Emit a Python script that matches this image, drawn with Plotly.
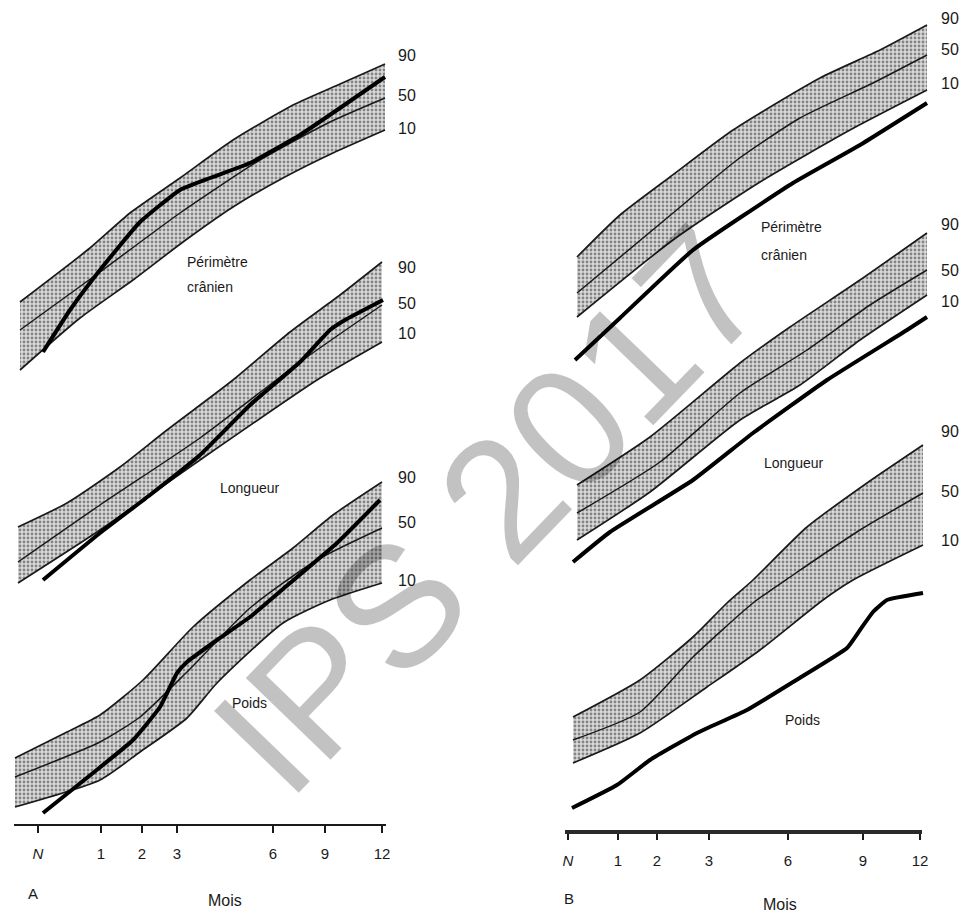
import plotly.graph_objects as go

# The page body adds an 8px margin; the figure is sized/offset to compensate.
PAGE_W, PAGE_H = 968, 917
OFF = 8
W, H = PAGE_W - OFF, PAGE_H - OFF
FONT = "Liberation Sans"
INK = "#1a1a1a"

# ---- x tick positions (months) for each panel (horizontal picture scale) ----
month_labels = ["<i>N</i>", "1", "2", "3", "6", "9", "12"]
ticks_A = [38, 101, 142, 177, 273, 325, 382]
ticks_B = [568, 618, 657, 709, 788, 863, 920]

# ---- Panel A (vertical scale = picture level) ----
A_head_top_x = [20, 90, 130, 180, 233, 293, 340, 385]
A_head_top_y = [302, 248, 213, 178, 140, 105, 84, 64]
A_head_mid_x = [20, 100, 180, 260, 330, 385]
A_head_mid_y = [330, 272, 213, 160, 122, 98]
A_head_bot_x = [20, 80, 133, 183, 233, 283, 333, 385]
A_head_bot_y = [370, 318, 280, 242, 207, 178, 153, 130]
A_head_pat_x = [43, 70, 100, 140, 180, 210, 250, 300, 340, 385]
A_head_pat_y = [352, 310, 270, 222, 190, 178, 163, 135, 108, 77]

A_len_top_x = [18, 67, 120, 167, 233, 290, 340, 382]
A_len_top_y = [527, 503, 467, 430, 380, 332, 295, 262]
A_len_mid_x = [18, 100, 200, 300, 382]
A_len_mid_y = [562, 505, 438, 362, 305]
A_len_bot_x = [18, 100, 200, 317, 382]
A_len_bot_y = [583, 530, 460, 380, 342]
A_len_pat_x = [43, 100, 150, 200, 250, 300, 330, 345, 383]
A_len_pat_y = [580, 533, 495, 455, 405, 362, 330, 320, 300]

A_wt_top_x = [15, 67, 100, 143, 193, 250, 293, 333, 382]
A_wt_top_y = [758, 732, 715, 680, 627, 580, 548, 515, 482]
A_wt_mid_x = [15, 100, 140, 187, 250, 317, 382]
A_wt_mid_y = [777, 742, 717, 672, 608, 560, 528]
A_wt_bot_x = [15, 100, 140, 187, 217, 283, 330, 382]
A_wt_bot_y = [807, 780, 752, 718, 683, 623, 600, 583]
A_wt_pat_x = [43, 93, 133, 160, 177, 187, 217, 250, 290, 337, 380]
A_wt_pat_y = [813, 773, 740, 707, 673, 662, 640, 617, 583, 543, 500]

# ---- Panel B ----
B_head_top_x = [577, 620, 670, 733, 820, 880, 927]
B_head_top_y = [257, 215, 177, 130, 78, 50, 25]
B_head_mid_x = [577, 673, 737, 800, 873, 927]
B_head_mid_y = [293, 213, 160, 118, 83, 55]
B_head_bot_x = [577, 673, 760, 850, 927]
B_head_bot_y = [317, 240, 182, 130, 90]
B_head_pat_x = [575, 620, 693, 793, 860, 927]
B_head_pat_y = [360, 318, 250, 183, 145, 103]

B_len_top_x = [577, 650, 740, 790, 860, 927]
B_len_top_y = [485, 437, 363, 327, 280, 233]
B_len_mid_x = [577, 660, 740, 807, 870, 927]
B_len_mid_y = [513, 462, 393, 350, 305, 270]
B_len_bot_x = [577, 650, 740, 800, 860, 927]
B_len_bot_y = [540, 492, 420, 385, 340, 295]
B_len_pat_x = [573, 610, 693, 753, 827, 907, 927]
B_len_pat_y = [562, 532, 480, 433, 380, 330, 317]

B_wt_top_x = [573, 640, 693, 727, 753, 807, 867, 923]
B_wt_top_y = [717, 680, 637, 603, 580, 527, 483, 445]
B_wt_mid_x = [573, 640, 693, 753, 793, 860, 923]
B_wt_mid_y = [740, 712, 657, 603, 575, 530, 493]
B_wt_bot_x = [573, 640, 707, 760, 823, 853, 923]
B_wt_bot_y = [763, 733, 687, 650, 600, 580, 545]
B_wt_pat_x = [572, 617, 650, 697, 747, 793, 847, 860, 873, 887, 923]
B_wt_pat_y = [808, 785, 760, 733, 710, 682, 648, 630, 612, 600, 593]

percentiles = ["90", "50", "10"]

fig = go.Figure()

pattern = dict(shape=".", fgcolor="#2e2e2e", bgcolor="#dadada", size=4, solidity=0.4)


def add_group(xa, ya, top, mid, bot, pat):
    sm = dict(shape="spline", smoothing=0.6)
    fig.add_trace(go.Scatter(x=bot[0], y=bot[1], mode="lines", xaxis=xa, yaxis=ya,
                             line=dict(color=INK, width=1.7, **sm), hoverinfo="skip"))
    fig.add_trace(go.Scatter(x=top[0], y=top[1], mode="lines", xaxis=xa, yaxis=ya,
                             fill="tonexty", fillpattern=pattern, fillcolor="#dadada",
                             line=dict(color=INK, width=1.7, **sm), hoverinfo="skip"))
    fig.add_trace(go.Scatter(x=mid[0], y=mid[1], mode="lines", xaxis=xa, yaxis=ya,
                             line=dict(color=INK, width=1.5, **sm), hoverinfo="skip"))
    fig.add_trace(go.Scatter(x=pat[0], y=pat[1], mode="lines", xaxis=xa, yaxis=ya,
                             line=dict(color="#000", width=4, shape="spline", smoothing=0.4),
                             hoverinfo="skip"))


add_group("x", "y", (A_head_top_x, A_head_top_y), (A_head_mid_x, A_head_mid_y),
          (A_head_bot_x, A_head_bot_y), (A_head_pat_x, A_head_pat_y))
add_group("x", "y", (A_len_top_x, A_len_top_y), (A_len_mid_x, A_len_mid_y),
          (A_len_bot_x, A_len_bot_y), (A_len_pat_x, A_len_pat_y))
add_group("x", "y", (A_wt_top_x, A_wt_top_y), (A_wt_mid_x, A_wt_mid_y),
          (A_wt_bot_x, A_wt_bot_y), (A_wt_pat_x, A_wt_pat_y))
add_group("x2", "y", (B_head_top_x, B_head_top_y), (B_head_mid_x, B_head_mid_y),
          (B_head_bot_x, B_head_bot_y), (B_head_pat_x, B_head_pat_y))
add_group("x2", "y", (B_len_top_x, B_len_top_y), (B_len_mid_x, B_len_mid_y),
          (B_len_bot_x, B_len_bot_y), (B_len_pat_x, B_len_pat_y))
add_group("x2", "y", (B_wt_top_x, B_wt_top_y), (B_wt_mid_x, B_wt_mid_y),
          (B_wt_bot_x, B_wt_bot_y), (B_wt_pat_x, B_wt_pat_y))


def px(xp):
    return (xp - OFF) / W


def py(yp):
    return 1 - (yp - OFF) / H


axA_pos = py(825)
axB_pos = py(832)

common_axis = dict(showgrid=False, zeroline=False, ticks="outside", ticklen=7, tickwidth=2,
                   tickcolor=INK, tickfont=dict(family=FONT, size=15, color=INK),
                   anchor="free", ticklabelstandoff=8, fixedrange=True, automargin=False)

fig.update_layout(
    width=W, height=H, margin=dict(l=0, r=0, t=0, b=0, autoexpand=False),
    paper_bgcolor="white", plot_bgcolor="rgba(0,0,0,0)", showlegend=False,
    xaxis=dict(domain=[px(14), px(386)], range=[14, 386], tickvals=ticks_A,
               ticktext=month_labels, position=axA_pos, showline=True,
               linecolor=INK, linewidth=2, **common_axis),
    xaxis2=dict(domain=[px(565), px(930)], range=[565, 930], tickvals=ticks_B,
                ticktext=month_labels, position=axB_pos, showline=False, **common_axis),
    yaxis=dict(domain=[0, 1], range=[PAGE_H, OFF], visible=False, fixedrange=True),
)

# thick axis line of panel B (ends at the 12-month tick)
fig.add_shape(type="line", xref="x2", yref="paper", x0=565, x1=ticks_B[-1] + 2,
              y0=axB_pos, y1=axB_pos, line=dict(color="#2a2a2a", width=4))

ann = []


def txt(x, y, s, size=15, xanchor="center"):
    ann.append(dict(x=px(x), y=py(y), xref="paper", yref="paper", text=s, showarrow=False,
                    xanchor=xanchor, yanchor="middle",
                    font=dict(family=FONT, size=size, color=INK)))


# percentile labels
for lab, yy in zip(percentiles, [55, 95, 128]):
    txt(407, yy, lab, 16)
for lab, yy in zip(percentiles, [267, 303, 333]):
    txt(407, yy, lab, 16)
for lab, yy in zip(percentiles, [478, 522, 580]):
    txt(407, yy, lab, 16)
for lab, yy in zip(percentiles, [19, 49, 83]):
    txt(950, yy, lab, 16)
for lab, yy in zip(percentiles, [225, 270, 302]):
    txt(950, yy, lab, 16)
for lab, yy in zip(percentiles, [432, 492, 540]):
    txt(950, yy, lab, 16)

# measure names
txt(185, 262, "Périmètre", 14, xanchor="left")
txt(185, 287, "crânien", 14, xanchor="left")
txt(250, 488, "Longueur", 14)
txt(249, 703, "Poids", 14)
txt(759, 227, "Périmètre", 14, xanchor="left")
txt(759, 255, "crânien", 14, xanchor="left")
txt(794, 463, "Longueur", 14)
txt(802, 720, "Poids", 14)

# axis titles and panel letters
txt(225, 900, "Mois", 16)
txt(780, 904, "Mois", 16)
txt(33, 893, "A", 15)
txt(569, 898, "B", 15)

# watermark
ann.append(dict(x=px(489), y=py(509), xref="paper", yref="paper", text="IPS 2017",
                showarrow=False, textangle=-46, xanchor="center", yanchor="middle",
                font=dict(family=FONT, size=171, color="rgba(0,0,0,0.24)")))

fig.update_layout(annotations=ann)
fig.write_html("out.html")
